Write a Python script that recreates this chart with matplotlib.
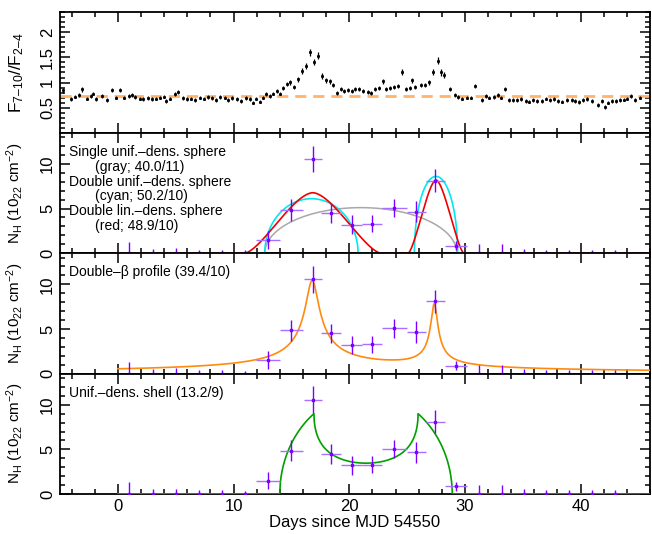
import numpy as np
import matplotlib.pyplot as plt
from matplotlib.ticker import MultipleLocator

plt.rcParams['font.family'] = ['Liberation Sans', 'DejaVu Sans']
plt.rcParams['mathtext.fontset'] = 'custom'
plt.rcParams['mathtext.rm'] = 'Liberation Sans'
plt.rcParams['mathtext.it'] = 'Liberation Sans:italic'

# ── hardness ratio light curve (F 7-10 keV / F 2-4 keV) ──────────────────
hr_day = [-4.75, -4.03, -3.74, -3.38, -3.13, -2.66, -2.30, -2.12, -1.86, -1.40,
          -0.93, -0.50, -0.14, 0.23, 0.51, 0.95, 1.23, 1.52, 1.88, 2.21,
          2.57, 2.93, 3.29, 3.65, 4.01, 4.19, 4.55, 4.91, 5.20, 5.63,
          5.99, 6.35, 6.71, 7.07, 7.43, 7.79, 8.15, 8.51, 8.87, 9.23,
          9.52, 9.88, 10.32, 10.68, 11.04, 11.40, 11.65, 11.94, 12.30, 12.55,
          12.84, 13.13, 13.38, 13.74, 13.99, 14.28, 14.64, 14.89, 15.25, 15.54,
          15.90, 16.26, 16.62, 16.98, 17.27, 17.63, 17.99, 18.32, 18.60, 18.96,
          19.25, 19.54, 19.90, 20.23, 20.51, 20.87, 21.23, 21.59, 21.85, 22.21,
          22.57, 22.93, 23.22, 23.54, 23.86, 24.19, 24.55, 24.91, 25.27, 25.45,
          25.70, 26.17, 26.53, 26.89, 27.25, 27.68, 27.97, 28.23, 28.69, 29.13,
          29.41, 29.77, 30.14, 30.50, 30.86, 31.47, 31.86, 32.12, 32.48, 32.84,
          33.13, 33.49, 33.81, 34.17, 34.53, 34.82, 35.25, 35.54, 35.90, 36.26,
          36.62, 36.98, 37.34, 37.70, 38.06, 38.42, 38.86, 39.22, 39.50, 39.86,
          40.23, 40.59, 40.95, 41.49, 41.85, 42.10, 42.39, 42.75, 43.04, 43.40,
          43.72, 44.01, 44.37, 44.73, 45.09]
hr_val = [0.85, 0.67, 0.72, 0.75, 0.87, 0.68, 0.73, 0.78, 0.67, 0.73,
          0.65, 0.85, 0.70, 0.85, 0.70, 0.73, 0.75, 0.71, 0.68, 0.67,
          0.69, 0.67, 0.68, 0.70, 0.72, 0.63, 0.68, 0.77, 0.81, 0.69,
          0.67, 0.68, 0.65, 0.70, 0.68, 0.71, 0.69, 0.65, 0.71, 0.70,
          0.65, 0.69, 0.67, 0.63, 0.69, 0.67, 0.60, 0.68, 0.62, 0.70,
          0.77, 0.73, 0.78, 0.83, 0.78, 0.89, 0.97, 1.01, 0.91, 1.07,
          1.23, 1.33, 1.60, 1.40, 1.53, 1.13, 1.05, 1.03, 0.95, 0.80,
          0.87, 0.83, 0.85, 0.83, 0.87, 0.87, 0.83, 0.82, 0.79, 0.87,
          0.89, 1.03, 0.87, 0.89, 0.91, 0.93, 1.21, 0.87, 0.89, 1.05,
          0.91, 0.95, 0.95, 1.01, 1.21, 1.43, 1.20, 1.15, 0.87, 0.75,
          0.71, 0.68, 0.70, 0.70, 0.93, 0.65, 0.73, 0.70, 0.71, 0.75,
          0.70, 0.87, 0.65, 0.65, 0.65, 0.67, 0.63, 0.62, 0.65, 0.63,
          0.63, 0.68, 0.65, 0.67, 0.63, 0.62, 0.65, 0.65, 0.63, 0.61,
          0.65, 0.67, 0.63, 0.55, 0.63, 0.51, 0.60, 0.63, 0.63, 0.65,
          0.66, 0.68, 0.73, 0.65, 0.70]
hr_err = [0.05, 0.035, 0.035, 0.035, 0.05, 0.035, 0.035, 0.035, 0.035, 0.035,
          0.035, 0.04, 0.035, 0.04, 0.035, 0.035, 0.035, 0.035, 0.035, 0.035,
          0.035, 0.035, 0.035, 0.035, 0.035, 0.035, 0.035, 0.04, 0.04, 0.035,
          0.035, 0.035, 0.035, 0.035, 0.035, 0.035, 0.035, 0.035, 0.035, 0.035,
          0.035, 0.035, 0.035, 0.035, 0.035, 0.035, 0.035, 0.035, 0.035, 0.035,
          0.035, 0.035, 0.035, 0.04, 0.035, 0.04, 0.045, 0.05, 0.045, 0.05,
          0.06, 0.06, 0.07, 0.06, 0.07, 0.05, 0.05, 0.05, 0.045, 0.04,
          0.04, 0.04, 0.04, 0.04, 0.04, 0.04, 0.04, 0.04, 0.04, 0.04,
          0.04, 0.05, 0.04, 0.04, 0.04, 0.04, 0.06, 0.04, 0.04, 0.05,
          0.04, 0.045, 0.045, 0.05, 0.06, 0.07, 0.06, 0.05, 0.04, 0.035,
          0.035, 0.035, 0.035, 0.035, 0.045, 0.035, 0.035, 0.035, 0.035, 0.035,
          0.035, 0.045, 0.035, 0.035, 0.035, 0.035, 0.035, 0.035, 0.035, 0.035,
          0.035, 0.035, 0.035, 0.035, 0.035, 0.035, 0.035, 0.035, 0.035, 0.035,
          0.035, 0.035, 0.035, 0.035, 0.035, 0.035, 0.035, 0.035, 0.035, 0.035,
          0.035, 0.035, 0.035, 0.035, 0.035]
hr_mean = 0.74

# ── N_H from spectral fits (units 1e22 cm^-2) ─────────────────────────────
nh_day = [1.0, 3.0, 5.0, 7.0, 9.0, 11.0, 12.95, 15.0, 16.85, 18.45, 20.2,
          21.95, 23.9, 25.8, 27.45, 29.25, 31.2, 33.2, 35.1, 37.0, 39.0,
          41.0, 43.0]
nh_dday = [1.0, 1.0, 1.0, 1.0, 1.0, 1.0, 1.05, 1.0, 0.78, 0.85, 0.9,
           0.85, 1.1, 0.8, 0.85, 0.95, 1.0, 1.0, 1.0, 1.0, 1.0,
           1.0, 1.0]
nh_val = [0.0, 0.0, 0.0, 0.0, 0.0, 0.0, 1.5, 4.85, 10.55, 4.5, 3.2,
          3.3, 5.05, 4.65, 8.1, 0.85, 0.0, 0.0, 0.0, 0.0, 0.0,
          0.0, 0.0]
nh_err = [1.3, 0.5, 0.6, 0.4, 0.4, 0.3, 1.0, 1.2, 1.5, 1.1, 1.05,
          0.95, 1.05, 1.2, 1.3, 0.5, 1.0, 1.0, 0.5, 0.4, 0.4,
          0.4, 0.4]

# ── best-fit model parameters: (centre day, half-width in days, peak N_H) ─
single_sphere = (21.0, 8.3, 5.1)
double_sphere = [(16.73, 4.03, 6.1), (27.5, 1.87, 8.6)]
double_lin_sphere = [(16.85, 5.85, 6.77), (27.5, 2.4, 8.2)]
# beta profile: (centre, core radius, slope index, peak)
double_beta = [(16.8, 0.56, 0.45, 10.3), (27.35, 0.30, 0.55, 7.1)]
# shell: (centre, outer radius, inner radius, cavity weight, N_H at rim)
shell = (21.45, 7.45, 4.5, 1.15, 9.0)

fits = ["Single unif.\u2013dens. sphere", "(gray; 40.0/11)",
        "Double unif.\u2013dens. sphere", "(cyan; 50.2/10)",
        "Double lin.\u2013dens. sphere", "(red; 48.9/10)"]
beta_label = "Double\u2013\u03b2 profile (39.4/10)"
shell_label = "Unif.\u2013dens. shell (13.2/9)"


def unif_sphere(t, t0, half, peak):
    x = (t - t0) / half
    return peak * np.sqrt(np.clip(1.0 - x**2, 0, None))


def lin_sphere(t, t0, half, peak):
    # density falling linearly to zero at the surface
    b = np.abs(t - t0) / half
    s = np.sqrt(np.clip(1.0 - b**2, 0, None))
    with np.errstate(divide='ignore', invalid='ignore'):
        col = s - b**2 * np.log((s + 1.0) / b)
    col = np.where(b < 1e-9, 1.0, col)
    col = np.where(b >= 1.0, 0.0, col)
    return peak * col


def beta_prof(t, t0, rc, p, peak):
    return peak * (1.0 + ((t - t0) / rc)**2) ** (-p)


def unif_shell(t, t0, r_out, r_in, w, peak):
    d2 = (t - t0)**2
    out = np.sqrt(np.clip(r_out**2 - d2, 0, None))
    inn = np.sqrt(np.clip(r_in**2 - d2, 0, None))
    return peak / np.sqrt(r_out**2 - r_in**2) * (out - w * inn)


t = np.linspace(0, 46, 3000)

fig = plt.figure(figsize=(6.52, 5.34), dpi=100)
gs = fig.add_gridspec(4, 1, hspace=0, left=0.092, right=0.997,
                      bottom=0.075, top=0.977)
axes = [fig.add_subplot(gs[i]) for i in range(4)]

for ax in axes:
    ax.set_xlim(-5, 46)
    ax.xaxis.set_major_locator(MultipleLocator(10))
    ax.xaxis.set_minor_locator(MultipleLocator(2))
    ax.tick_params(which='both', direction='in', top=True, right=True,
                   width=1.1, labelsize=12)
    ax.tick_params(which='major', length=7)
    ax.tick_params(which='minor', length=3.5)
    for sp in ax.spines.values():
        sp.set_linewidth(1.3)
    if ax is not axes[-1]:
        ax.tick_params(labelbottom=False)

# ── panel 1: hardness ratio ──────────────────────────────────────────────
ax = axes[0]
ax.errorbar(hr_day, hr_val, yerr=hr_err, fmt='s', ms=1.1, color='black',
            ecolor='black', elinewidth=0.9, capsize=0, zorder=3)
ax.axhline(hr_mean, color='#ffb36b', lw=2.0, ls=(0, (4, 2.5)), zorder=2)
ax.set_ylim(0, 2.4)
ax.yaxis.set_minor_locator(MultipleLocator(0.1))
ax.set_yticks([0.5, 1, 1.5, 2])
ax.set_yticklabels(['0.5', '1', '1.5', '2'])
ax.set_ylabel('F$_{7\u201310}$//F$_{2\u20134}$', fontsize=12.5)

nh_label = 'N$_{\\rm H}$ (10$_{22}$ cm$^{-2}$)'


def draw_nh(ax):
    ax.errorbar(nh_day, nh_val, xerr=nh_dday, fmt='none', ecolor='#a970ff',
                elinewidth=1.0, capsize=0, zorder=4)
    ax.errorbar(nh_day, nh_val, yerr=nh_err, fmt='s', ms=1.8,
                color='#7a00ff', ecolor='#7a00ff', elinewidth=1.0,
                capsize=0, zorder=5)
    ax.set_ylim(0, 13.5)
    ax.set_yticks([0, 5, 10])
    ax.yaxis.set_minor_locator(MultipleLocator(1))
    ax.set_ylabel(nh_label, fontsize=11)


# ── panel 2: sphere models ───────────────────────────────────────────────
ax = axes[1]
ax.plot(t, unif_sphere(t, *single_sphere), color='#a8a8a8', lw=1.1, zorder=3)
ax.plot(t, sum(unif_sphere(t, *p) for p in double_sphere),
        color='#00e8f0', lw=1.2, zorder=3)
ax.plot(t, sum(lin_sphere(t, *p) for p in double_lin_sphere),
        color='#f00000', lw=1.2, zorder=3)
draw_nh(ax)
for i, s in enumerate(fits):
    ax.text(0.015 if i % 2 == 0 else 0.06, 0.84 - i * 0.123, s,
            transform=ax.transAxes, fontsize=10, va='center', ha='left')

# ── panel 3: double beta profile ─────────────────────────────────────────
ax = axes[2]
ax.plot(t, sum(beta_prof(t, *p) for p in double_beta),
        color='#ff8a10', lw=1.2, zorder=3)
draw_nh(ax)
ax.text(0.015, 0.84, beta_label, transform=ax.transAxes, fontsize=10,
        va='center', ha='left')

# ── panel 4: shell ───────────────────────────────────────────────────────
ax = axes[3]
ax.plot(t, unif_shell(t, *shell), color='#00a000', lw=1.2, zorder=3)
draw_nh(ax)
ax.text(0.015, 0.84, shell_label, transform=ax.transAxes, fontsize=10,
        va='center', ha='left')
ax.set_xlabel('Days since MJD 54550', fontsize=12, labelpad=1)

for ax in axes:
    plt.setp(ax.get_yticklabels(), rotation=90, va='center')
    ax.yaxis.set_label_coords(-0.058, 0.5)

fig.savefig('out.png', dpi=100)
